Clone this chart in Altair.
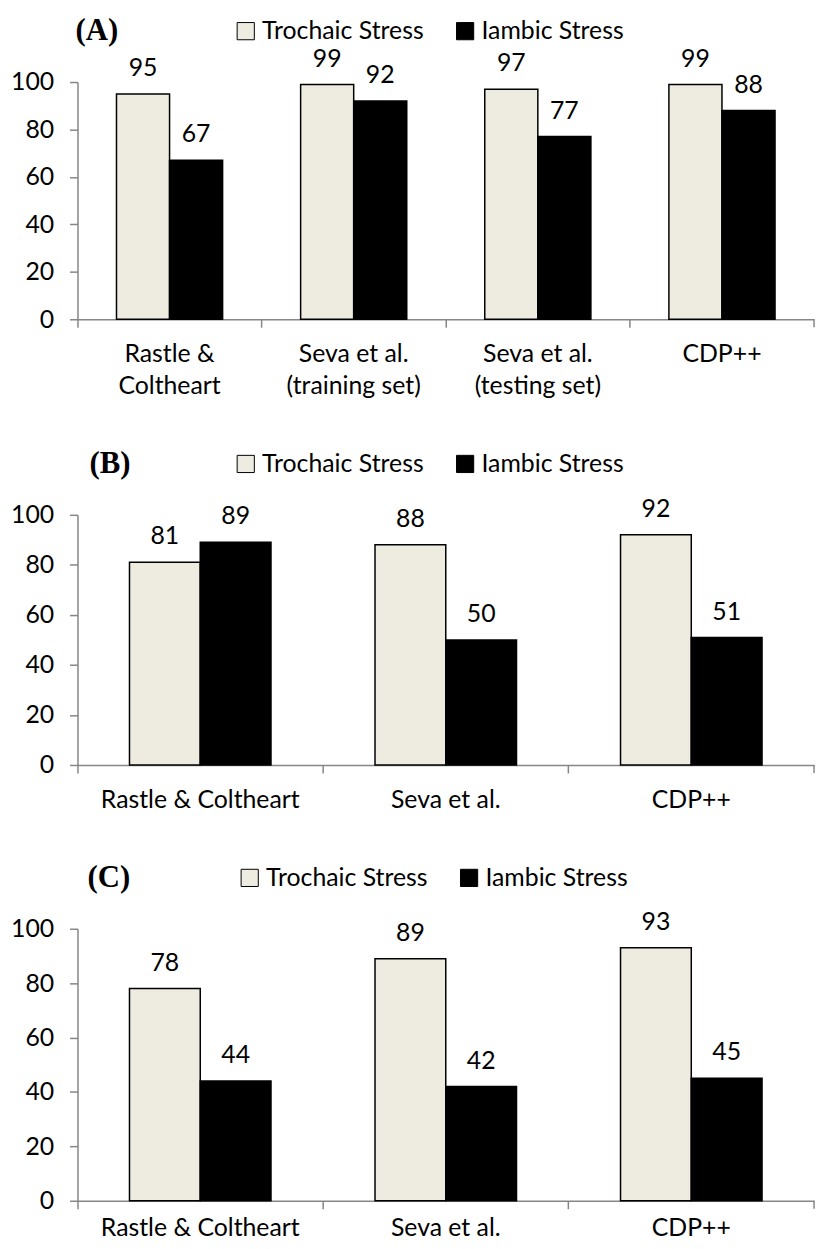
import altair as alt
import pandas as pd

series = ["Trochaic Stress", "Iambic Stress"]
series_colors = ["#EEECE1", "#000000"]

a_cats = ["Rastle &|Coltheart", "Seva et al.|(training set)", "Seva et al.|(testing set)", "CDP++"]
a_troch = [95, 99, 97, 99]
a_iamb = [67, 92, 77, 88]

b_cats = ["Rastle & Coltheart", "Seva et al.", "CDP++"]
b_troch = [81, 88, 92]
b_iamb = [89, 50, 51]

c_cats = ["Rastle & Coltheart", "Seva et al.", "CDP++"]
c_troch = [78, 89, 93]
c_iamb = [44, 42, 45]

y_ticks = [0, 20, 40, 60, 80, 100]

GRAY = "#868686"
FONT = "Lato"
FS = 25
W = 742


def panel(cats, troch, iamb, title, height, legend_x, title_pad, label_pad):
    df = pd.DataFrame({
        "cat": cats * 2,
        "series": [series[0]] * len(cats) + [series[1]] * len(cats),
        "value": troch + iamb,
    })
    x = alt.X("cat:N", sort=cats, title=None,
              scale=alt.Scale(paddingInner=0, paddingOuter=0),
              axis=alt.Axis(labelAngle=0, bandPosition=0, labelExpr="split(datum.label, '|')",
                            labelFont=FONT, labelFontSize=FS, labelColor="black",
                            labelLimit=0, labelPadding=label_pad, labelLineHeight=32,
                            tickSize=8, tickColor=GRAY, tickWidth=1.5,
                            domainColor=GRAY, domainWidth=1.5))
    xo = alt.XOffset("series:N", sort=series,
                     scale=alt.Scale(domain=series, paddingOuter=0.735, paddingInner=0))
    y = alt.Y("value:Q", title=None, scale=alt.Scale(domain=[0, 100]),
              axis=alt.Axis(values=y_ticks, grid=False, labelFont=FONT, labelFontSize=FS,
                            labelColor="black", labelPadding=16, tickSize=8, tickColor=GRAY,
                            tickWidth=1.5, domainColor=GRAY, domainWidth=1.5))
    fill = alt.Fill("series:N", sort=series,
                    scale=alt.Scale(domain=series, range=series_colors),
                    legend=alt.Legend(title=title, titleOrient="left", titleFont="Liberation Serif",
                                      titleFontSize=31, titleFontWeight="bold", titleColor="black",
                                      titlePadding=title_pad, titleBaseline="middle",
                                      orient="none", legendX=legend_x, legendY=-64,
                                      direction="horizontal", columns=2,
                                      symbolType="square", symbolSize=300,
                                      symbolStrokeColor="black", symbolStrokeWidth=1,
                                      symbolOpacity=1,
                                      labelFont=FONT, labelFontSize=FS, labelColor="black",
                                      labelOffset=4, labelLimit=0, columnPadding=29, padding=0))
    bars = alt.Chart(df).mark_bar(stroke="black", strokeWidth=1.5).encode(
        x=x, xOffset=xo, y=y, fill=fill)
    labels = alt.Chart(df).mark_text(dy=-26, fontSize=FS, font=FONT, baseline="middle",
                                     color="black").encode(
        x=x, xOffset=xo, y=y, text="value:Q")
    endtick = alt.Chart(pd.DataFrame({"v": [0]})).mark_rule(color=GRAY, strokeWidth=1.5).encode(
        x=alt.value(W), y=alt.value(height), y2=alt.value(height + 8))
    return alt.layer(bars, labels, endtick).properties(width=W, height=height)


pa = panel(a_cats, a_troch, a_iamb, "(A)", 239, -2, 115, 15)
pb = panel(b_cats, b_troch, b_iamb, "(B)", 252, 12, 103, 15)
pc = panel(c_cats, c_troch, c_iamb, "(C)", 274, 10, 107, 7)

chart = alt.vconcat(pa, pb, pc, spacing=53).resolve_scale(
    x="independent", y="independent", xOffset="independent", fill="independent"
).resolve_legend(fill="independent").properties(
    padding={"left": 2, "top": 6, "right": 4, "bottom": 0}
).configure_view(strokeWidth=0)

chart.save("out.html", embed_options={"renderer": "svg", "actions": False})
